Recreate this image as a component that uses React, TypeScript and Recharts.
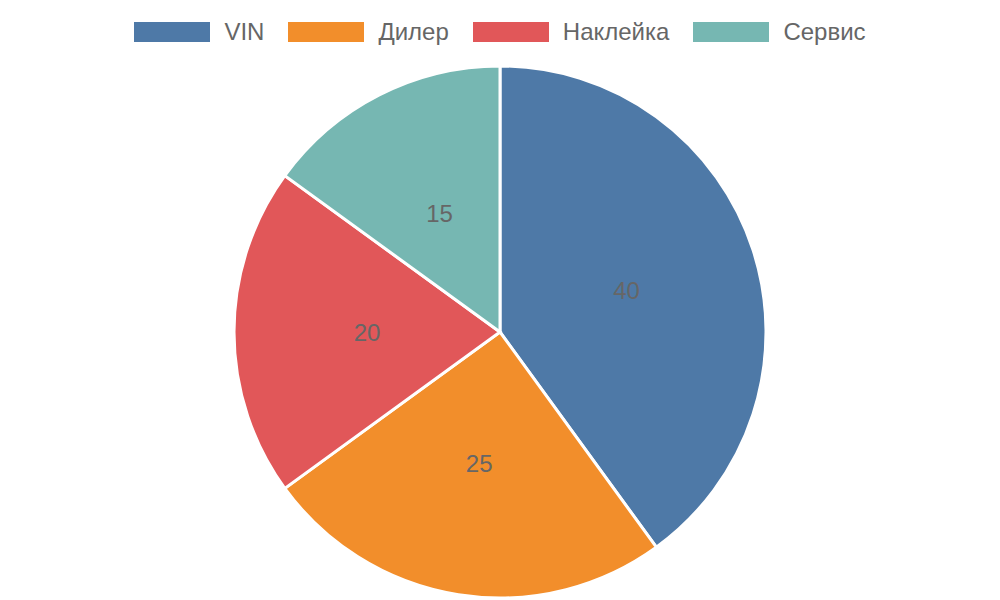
import React from "react";
import { PieChart, Pie, Cell } from "recharts";

const categories = ["VIN", "Дилер", "Наклейка", "Сервис"];
const values = [40, 25, 20, 15];
const colors = ["#4e79a7", "#f28e2b", "#e15759", "#76b7b2"];

const FONT = '"Liberation Sans", Arial, Helvetica, sans-serif';
const RADIAN = Math.PI / 180;

const data = categories.map((name, i) => ({ name, value: values[i] }));

/** Подпись значения в середине сектора */
function renderLabel(props: any) {
  const { cx, cy, midAngle, innerRadius, outerRadius, value } = props;
  const r = (innerRadius + outerRadius) / 2;
  const x = cx + r * Math.cos(-midAngle * RADIAN);
  const y = cy + r * Math.sin(-midAngle * RADIAN);
  return (
    <text
      x={x}
      y={y}
      fill="#666"
      fontSize={24}
      fontFamily={FONT}
      textAnchor="middle"
      dominantBaseline="central"
    >
      {value}
    </text>
  );
}

function ChartLegend() {
  return (
    <div
      style={{
        position: "absolute",
        top: 22,
        left: 0,
        width: 1000,
        display: "flex",
        justifyContent: "center",
        gap: 24,
        fontFamily: FONT,
        fontSize: 24,
        color: "#666",
      }}
    >
      {categories.map((name, i) => (
        <div key={name} style={{ display: "flex", alignItems: "center", gap: 14, height: 20 }}>
          <span style={{ display: "inline-block", width: 76, height: 20, background: colors[i] }} />
          <span style={{ lineHeight: "20px" }}>{name}</span>
        </div>
      ))}
    </div>
  );
}

export default function App() {
  return (
    <div style={{ position: "fixed", top: 0, left: 0, width: 1000, height: 600, background: "#fff" }}>
      <ChartLegend />
      <PieChart width={1000} height={600} margin={{ top: 0, right: 0, bottom: 0, left: 0 }}>
        <Pie
          data={data}
          dataKey="value"
          nameKey="name"
          cx={500}
          cy={332}
          outerRadius={266}
          startAngle={90}
          endAngle={-270}
          stroke="#fff"
          strokeWidth={3}
          label={renderLabel}
          labelLine={false}
          isAnimationActive={false}
        >
          {data.map((d, i) => (
            <Cell key={d.name} fill={colors[i]} />
          ))}
        </Pie>
      </PieChart>
    </div>
  );
}
